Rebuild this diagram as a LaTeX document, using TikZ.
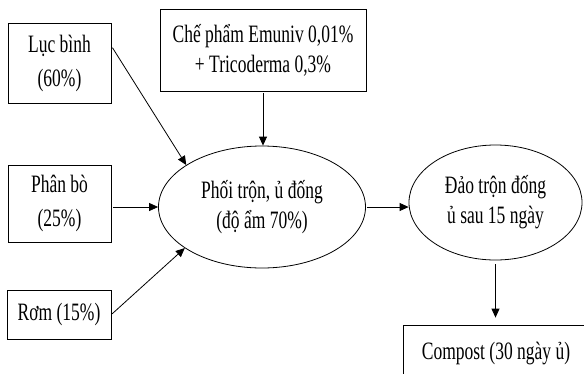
\documentclass[tikz,border=0pt]{standalone}
\usepackage{fontspec}
\newfontfamily\tnr[FakeStretch=0.7]{Liberation Serif}
\usetikzlibrary{shapes.geometric,arrows.meta}
\tikzset{
 box/.style={draw, rectangle, inner sep=0pt, align=center, line width=0.8pt},
 oval/.style={draw, ellipse, inner sep=0pt, align=center, line width=0.8pt},
 conn/.style={line width=0.8pt, -{Triangle[length=9pt,width=8pt]}},
 every node/.style={font=\tnr\fontsize{25}{30}\selectfont}
}
\begin{document}
\begin{tikzpicture}[x=1pt,y=-1pt]
\useasboundingbox (0,0) rectangle (584,373);
\fill[white] (0,0) rectangle (584,373);
\clip (0,0) rectangle (584,373);
\node[box, minimum width=103pt, minimum height=80pt] (lb) at (59.5,63) {Lục bình\\[4pt](60\%)};
\node[box, minimum width=206pt, minimum height=82pt] (cp) at (263,50) {Chế phẩm Emuniv 0,01\%\\+ Tricoderma 0,3\%};
\node[box, minimum width=103pt, minimum height=77pt] (pb) at (59.5,203.5) {Phân bò\\[4pt](25\%)};
\node[box, minimum width=104pt, minimum height=49pt] (rom) at (59,314.5) {Rơm (15\%)};
\node[oval, minimum width=207pt, minimum height=122pt] (e1) at (262,207) {Phối trộn, ủ đống\\(độ ẩm 70\%)};
\node[oval, minimum width=173pt, minimum height=115pt] (e2) at (495.5,202.5) {Đảo trộn đống\\ủ sau 15 ngày};
\node[box, minimum width=186pt, minimum height=56pt] (cm) at (496,353) {Compost (30 ngày ủ)};
\draw[conn, shorten <=2pt] ([yshift=17pt]lb.east) -- (e1.151);
\draw[conn, shorten <=2pt] (pb.east |- e1.west) -- (e1.west);
\draw[conn, shorten <=1pt] (rom.east) -- (e1.208);
\draw[conn, shorten <=2pt] (cp.south) -- (cp.south |- e1.north);
\draw[conn, shorten <=1pt] (e1.east) -- (e1.east -| e2.west);
\draw[conn, shorten <=4pt, shorten >=7pt] (e2.south) -- (e2.south |- cm.north);
\end{tikzpicture}
\end{document}
